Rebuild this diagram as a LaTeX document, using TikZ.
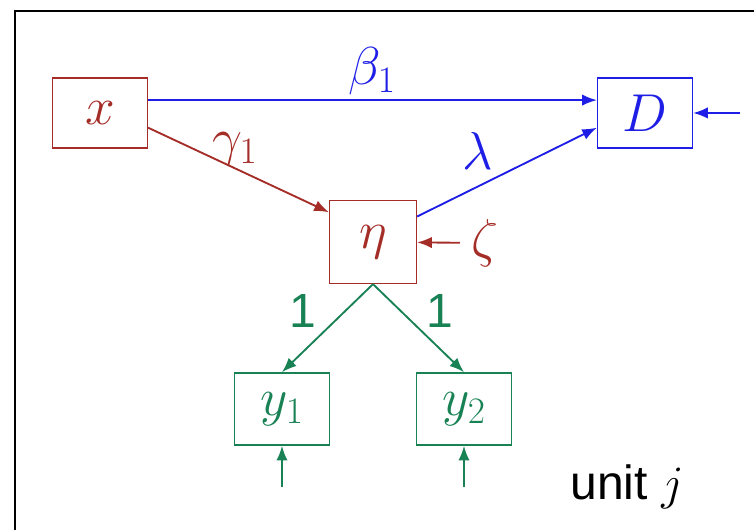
\RequirePackage{fix-cm}
\documentclass[tikz,border=0pt]{standalone}
\usepackage{fontspec}
\setsansfont{Liberation Sans}
\usetikzlibrary{arrows.meta}

\definecolor{pathred}{RGB}{165,45,40}
\definecolor{pathblue}{RGB}{30,30,230}
\definecolor{pathgreen}{RGB}{25,130,85}

\tikzset{every picture/.style={line width=1.4pt}}
\tikzset{
  varbox/.style={draw, line width=1.2pt, inner sep=0.75pt, minimum width=71pt, minimum height=52.5pt, font=\fontsize{40}{48}\selectfont},
  coef/.style={inner sep=0.75pt, font=\fontsize{40}{48}\selectfont},
  numlab/.style={inner sep=0.75pt, font=\sffamily\fontsize{36}{42}\selectfont},
  tip/.style={-{Latex[length=11pt,width=8.5pt]}},
}

\begin{document}
\begin{tikzpicture}[x=0.75pt,y=0.75pt,yscale=-1,xscale=1]
\useasboundingbox (0,0) rectangle (754,530);

%Frame
\draw [line width=1.8pt] (15,530) -- (15,11) -- (754,11) ;

%Boxes
\node [varbox, pathred] (x) at (100,113) {$x$};
\node [varbox, pathblue] (D) at (645,113) {$D$};
\node [varbox, pathred, minimum width=65pt, minimum height=62pt] (eta) at (373,242) {$\eta$};
\node [varbox, pathgreen, minimum height=54pt] (y1) at (282,409) {$y_1$};
\node [varbox, pathgreen, minimum height=54pt] (y2) at (464,409) {$y_2$};

%Free ends
\node [coef, pathred, inner sep=8pt] (zeta) at (485,243) {$\zeta$};
\coordinate (dIn) at (740,113);
\coordinate (y1In) at (282,487);
\coordinate (y2In) at (464,487);

%Paths
\draw [tip, pathblue] (x.15) -- (D.165) ;
\draw [tip, pathred] (x.-17) -- (eta.146) ;
\draw [tip, pathblue] (eta.30) -- (D.197) ;
\draw [tip, pathred] (zeta) -- (eta) ;
\draw [tip, pathblue] (dIn) -- (D) ;
\draw [tip, pathgreen] (eta.south) -- (y1.north) ;
\draw [tip, pathgreen] (eta.south) -- (y2.north) ;
\draw [tip, pathgreen] (y1In) -- (y1.south) ;
\draw [tip, pathgreen] (y2In) -- (y2.south) ;

% Text Node
\node [coef, pathblue] (beta1) at (372,71) {$\beta_1$};
% Text Node
\node [coef, pathred] (gamma1) at (235,149) {$\gamma_1$};
% Text Node
\node [coef, pathblue] (lambda) at (478,151) {$\lambda$};
% Text Node
\node [numlab, pathgreen] (one1) at (303,311) {1};
% Text Node
\node [numlab, pathgreen] (one2) at (440,311) {1};
% Text Node
\node [numlab] (unit) at (627,487) {unit $j$};

\end{tikzpicture}
\end{document}
